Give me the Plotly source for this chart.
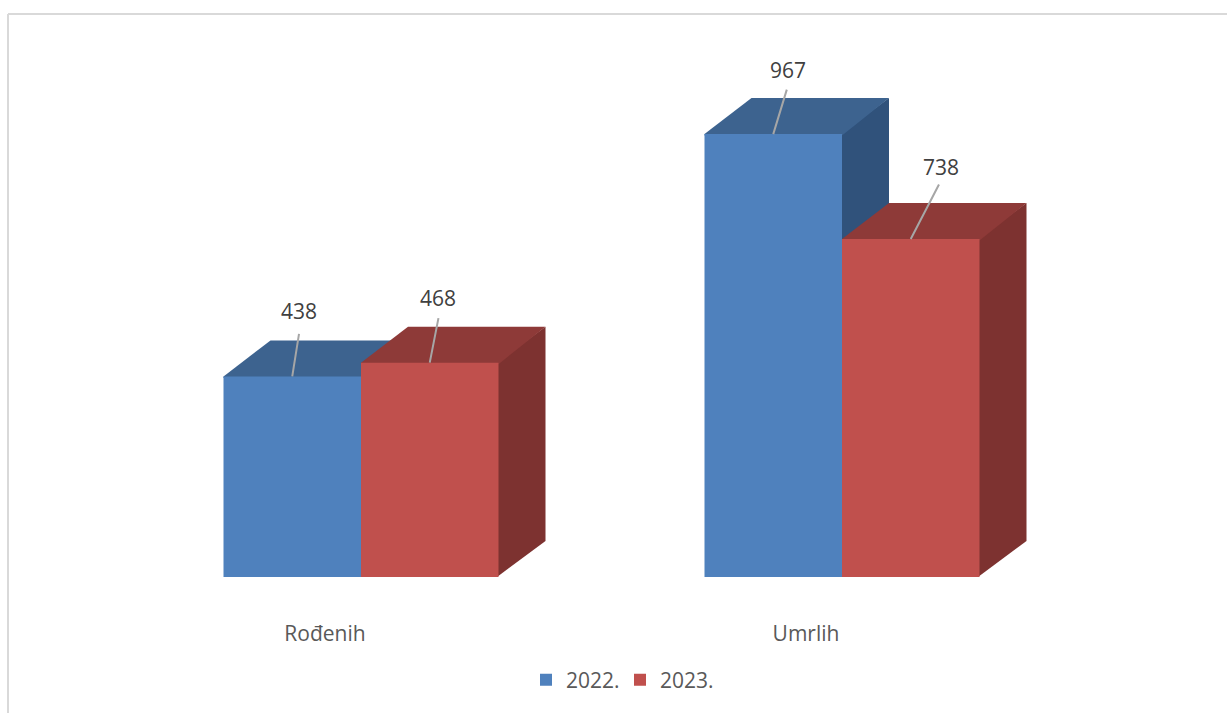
import plotly.graph_objects as go

categories = ["Rođenih", "Umrlih"]
series_names = ["2022.", "2023."]
values_2022 = [438, 967]
values_2023 = [468, 738]

W, H = 1227, 713
BASE_PX = 577
PX_PER_VAL = 0.458
PX_PER_CAT = 481
CENTER0_PX = 361
BAR_W = 137.5 / PX_PER_CAT
DX = 47 / PX_PER_CAT
DY = 36 / PX_PER_VAL
OVX = 1.5 / PX_PER_CAT
OVY = 1.5 / PX_PER_VAL
FONT = "Open Sans"

front = ["#4F81BD", "#C0504D"]
topc = ["#3D638F", "#8E3A38"]
sidec = ["#30527B", "#7D3230"]

cats = list(range(len(categories)))
all_vals = [values_2022, values_2023]
label_off = [[(7, -65), (8, -65)], [(15, -64), (30, -72)]]
leader_off = [[(7, -44), (9, -46)], [(14, -46), (29, -56)]]

fig = go.Figure()
for s, vals in enumerate(all_vals):
    fig.add_trace(go.Bar(x=cats, y=vals, name=series_names[s], width=BAR_W,
                         marker=dict(color=front[s], line=dict(width=0)),
                         offset=(s - 1) * BAR_W, hoverinfo="x+y"))

shapes = []
annotations = []
for s, vals in enumerate(all_vals):
    for c, v in zip(cats, vals):
        x0 = c + (s - 1) * BAR_W
        x1 = x0 + BAR_W
        side = f"M{x1-OVX},0 L{x1+DX},{DY} L{x1+DX},{v+DY} L{x1-OVX},{v} Z"
        top = f"M{x0},{v-OVY} L{x1},{v-OVY} L{x1+DX},{v+DY} L{x0+DX},{v+DY} L{x0},{v} Z"
        shapes.append(dict(type="path", path=side, fillcolor=sidec[s], line=dict(width=0), layer="below"))
        shapes.append(dict(type="path", path=top, fillcolor=topc[s], line=dict(width=0), layer="below"))
        lx, ly = leader_off[c][s]
        annotations.append(dict(x=(x0 + x1) / 2, y=v, text="", showarrow=True, arrowhead=0,
                                arrowwidth=2, arrowcolor="#A6A6A6", ax=lx, ay=ly, standoff=0))
        ox, oy = label_off[c][s]
        annotations.append(dict(x=(x0 + x1) / 2, y=v, text=str(v), showarrow=False,
                                xshift=ox, yshift=-oy,
                                font=dict(family=FONT, size=21, color="#404040")))

# Frame
shapes.append(dict(type="line", xref="paper", yref="paper", x0=8 / W, x1=1,
                   y0=(BASE_PX - 14) / BASE_PX, y1=(BASE_PX - 14) / BASE_PX,
                   line=dict(color="#D9D9D9", width=2)))
shapes.append(dict(type="line", xref="paper", yref="paper", x0=8 / W, x1=8 / W,
                   y0=(BASE_PX - H) / BASE_PX, y1=(BASE_PX - 14) / BASE_PX,
                   line=dict(color="#D9D9D9", width=2)))

fig.update_layout(
    width=W, height=H, margin=dict(l=0, r=0, t=0, b=H - BASE_PX, pad=0),
    paper_bgcolor="white", plot_bgcolor="white",
    barmode="overlay", shapes=shapes, annotations=annotations,
    font=dict(family=FONT, color="#595959"),
    xaxis=dict(range=[-CENTER0_PX / PX_PER_CAT, (W - CENTER0_PX) / PX_PER_CAT],
               tickmode="array", tickvals=[c - DX * 36 / 47 for c in cats], ticktext=categories,
               showgrid=False, zeroline=False, showline=False, ticks="",
               ticklabelstandoff=42, tickfont=dict(family=FONT, size=21, color="#595959")),
    yaxis=dict(range=[0, BASE_PX / PX_PER_VAL], showgrid=False, zeroline=False, showline=False,
               showticklabels=False, ticks=""),
    showlegend=True,
    legend=dict(orientation="h", x=526 / W, xanchor="left", y=(BASE_PX - 680) / BASE_PX, yanchor="middle",
                font=dict(family=FONT, size=21, color="#595959"), entrywidth=49, entrywidthmode="pixels",
                bgcolor="rgba(0,0,0,0)", borderwidth=0, itemclick=False, itemdoubleclick=False),
)
fig.write_html("out.html", config=dict(displayModeBar=False),
               post_script="document.body.style.margin='0';document.body.style.overflow='hidden';")
